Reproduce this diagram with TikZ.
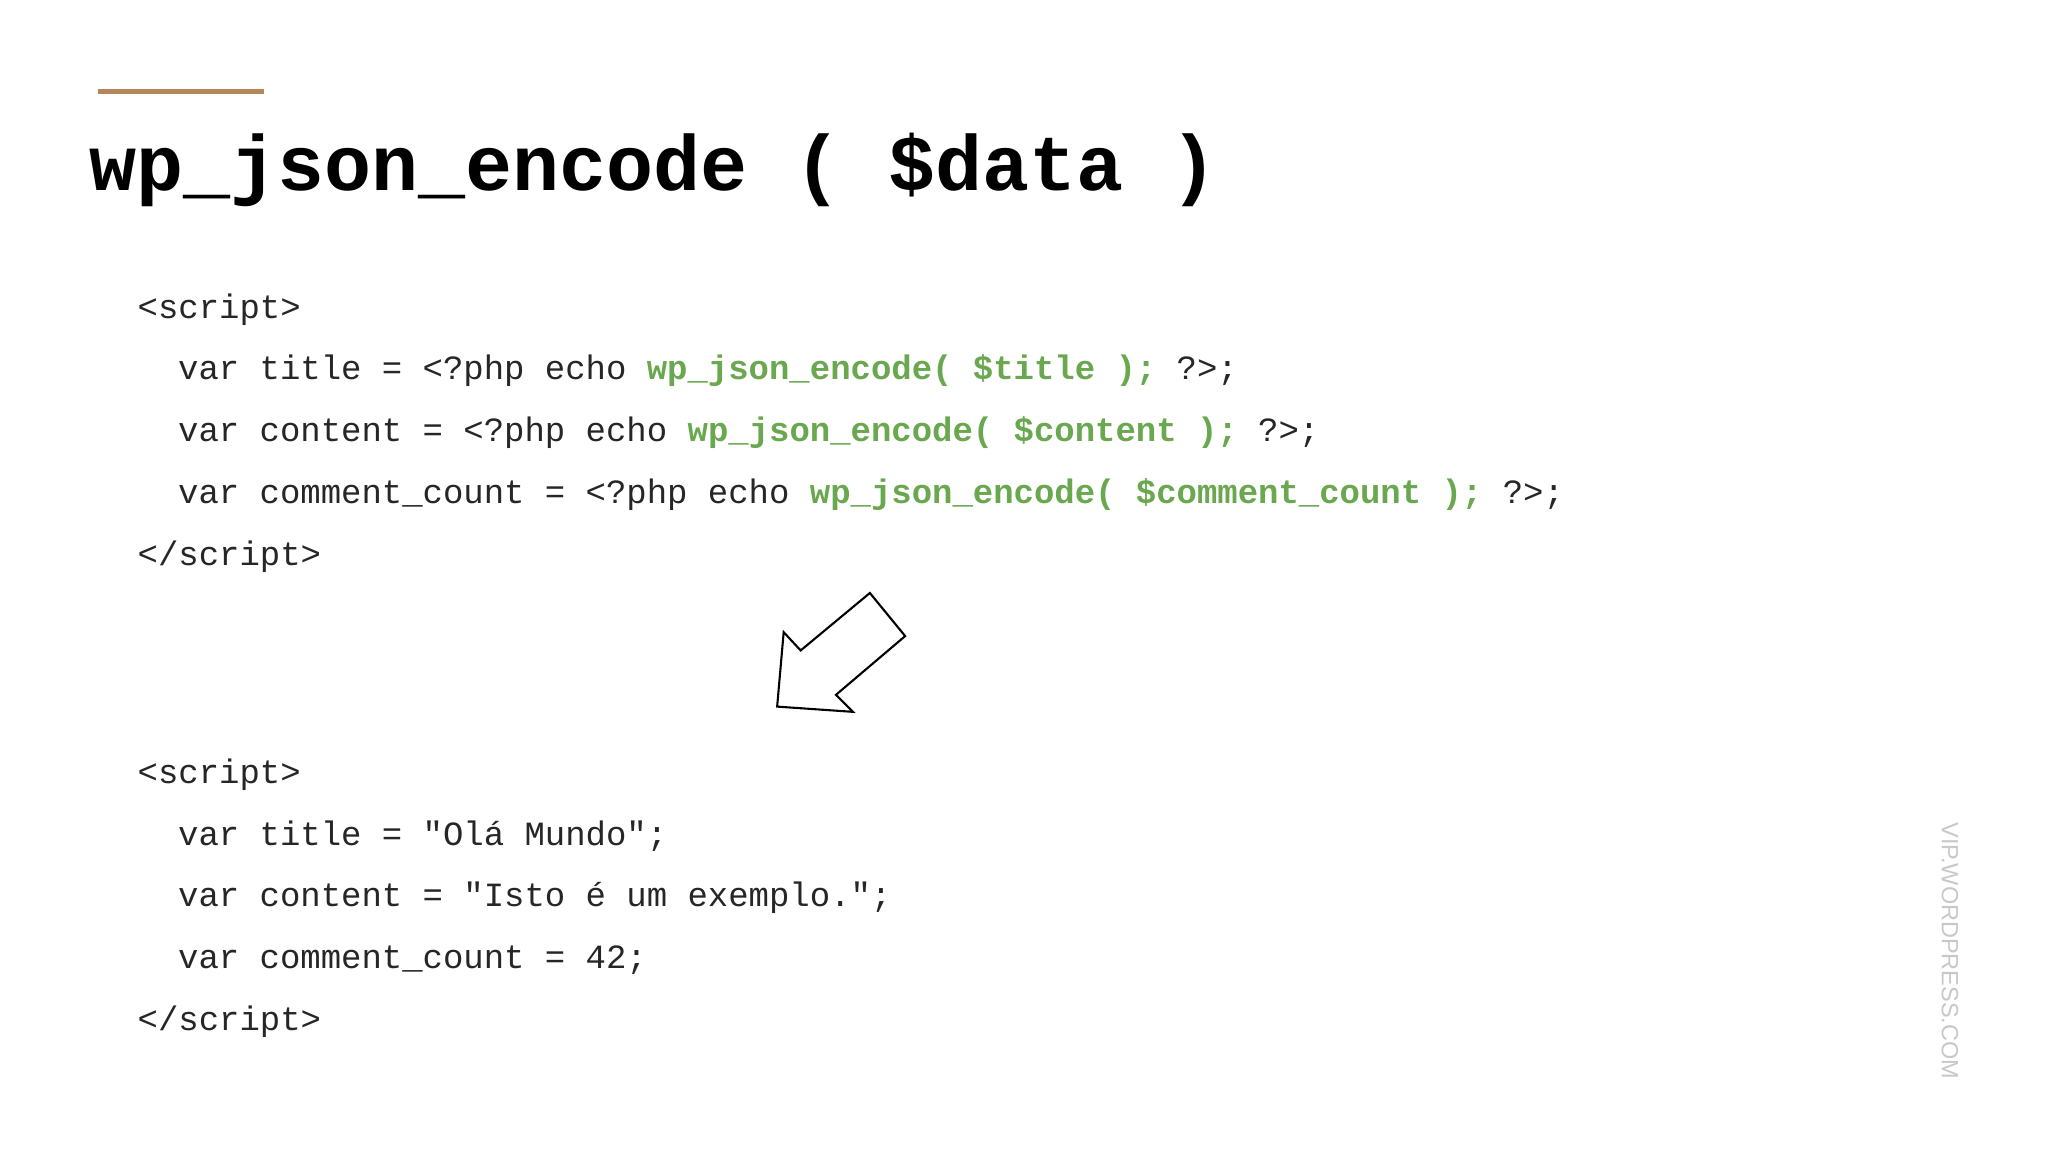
\documentclass[tikz,border=0pt]{standalone}
\usepackage{fontspec}
\setmonofont{Liberation Mono}
\setsansfont{Liberation Sans}
\definecolor{codegreen}{HTML}{6AA84F}
\definecolor{accent}{HTML}{B5865A}
\definecolor{wm}{HTML}{C8C8C8}
\newcommand{\gr}[1]{\textcolor{codegreen}{\bfseries #1}}
\begin{document}
\begin{tikzpicture}[x=0.5pt,y=-0.5pt,
  code/.style={anchor=west,inner sep=0pt,font=\ttfamily\fontsize{13}{15}\selectfont,text=black!85}]
\useasboundingbox (0,0) rectangle (1568,882);
\fill[white] (0,0) rectangle (1568,882);
\draw[accent,line width=2pt] (75,70) -- (202,70);
\node[anchor=west,inner sep=0pt,font=\ttfamily\bfseries\fontsize{30}{34}\selectfont] (title) at (68,130) {wp\_json\_encode ( \$data )};
\node[code] (a1) at (105,237) {<script>};
\node[code] (a2) at (136,284) {var title = <?php echo \gr{wp\_json\_encode( \$title ); }?>;};
\node[code] (a3) at (136,331) {var content = <?php echo \gr{wp\_json\_encode( \$content ); }?>;};
\node[code] (a4) at (136,379) {var comment\_count = <?php echo \gr{wp\_json\_encode( \$comment\_count ); }?>;};
\node[code] (a5) at (105,426) {</script>};
\node[code] (b1) at (105,593) {<script>};
\node[code] (b2) at (136,640) {var title = "Olá Mundo";};
\node[code] (b3) at (136,687) {var content = "Isto é um exemplo.";};
\node[code] (b4) at (136,735) {var comment\_count = 42;};
\node[code] (b5) at (105,782) {</script>};
\draw[black,line width=0.8pt,line join=miter,fill=white]
  (595,541) -- (600,484) -- (613,498) -- (666,454) -- (693,487) -- (640,532) -- (653,545) -- cycle;
\node[rotate=-90,inner sep=0pt,font=\sffamily\fontsize{9}{10}\selectfont,text=wm] (wm) at (1493,728) {VIP.WORDPRESS.COM};
\end{tikzpicture}
\end{document}
